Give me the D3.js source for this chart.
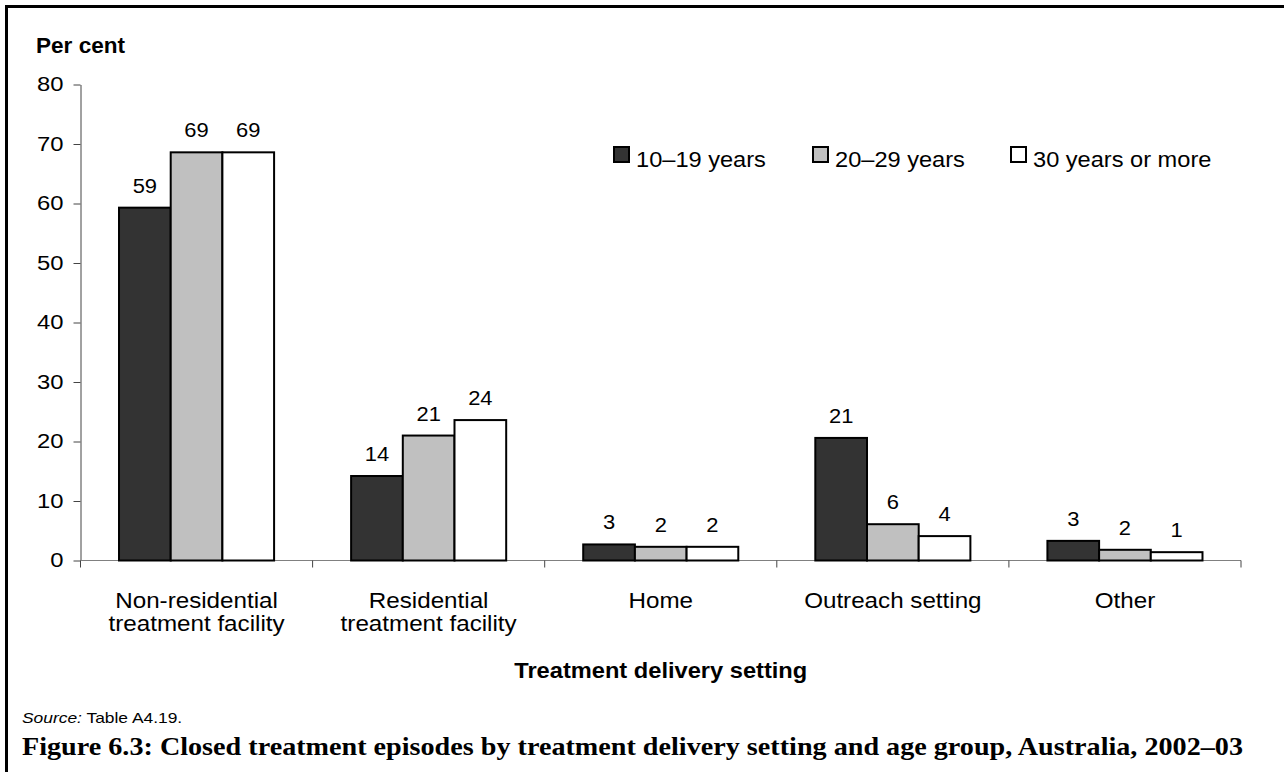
<!DOCTYPE html>
<html>
<head>
<meta charset="utf-8">
<script src="https://cdn.jsdelivr.net/npm/d3@7"></script>
<style>
  html, body { margin: 0; padding: 0; background: #fff; }
  svg { display: block; font-family: "Liberation Sans", Arial, sans-serif; }
</style>
</head>
<body>
<svg id="chart" width="1284" height="772"></svg>
<script>
// Treatment delivery settings (each label split into its printed lines)
const categories = ["Non-residential treatment facility", "Residential treatment facility", "Home", "Outreach setting", "Other"];
const categoryLines = [["Non-residential", "treatment facility"], ["Residential", "treatment facility"], ["Home"], ["Outreach setting"], ["Other"]];

// Age groups
const ageGroups = ["10–19 years", "20–29 years", "30 years or more"];

// Per cent of closed treatment episodes, by setting
const age10to19 = [59.3, 14.2, 2.7, 20.6, 3.3];
const age20to29 = [68.6, 21.0, 2.3, 6.1, 1.8];
const age30plus = [68.6, 23.6, 2.3, 4.1, 1.4];

const yTicks = [0, 10, 20, 30, 40, 50, 60, 70, 80];

const seriesValues = [age10to19, age20to29, age30plus];
const fills = ["#333333", "#c0c0c0", "#ffffff"];

const svg = d3.select("#chart");

// stretch text horizontally around its anchor point
function stretch(sel, sx) {
  sel.each(function () {
    const t = d3.select(this);
    const x = +t.attr("x") || 0;
    const y = +t.attr("y") || 0;
    t.attr("x", null).attr("y", null)
     .attr("transform", `translate(${x},${y}) scale(${sx},1)`);
  });
}

// outer frame
svg.append("rect")
  .attr("x", 6.5).attr("y", 6.5)
  .attr("width", 1320).attr("height", 820)
  .attr("fill", "none").attr("stroke", "#000").attr("stroke-width", 3);

const plot = { left: 80.5, right: 1241, top: 84.5, bottom: 560.5 };

const y = d3.scaleLinear().domain([0, 80]).range([plot.bottom, plot.top]);
const x0 = d3.scaleBand().domain(categories).range([plot.left, plot.right]).paddingInner(0).paddingOuter(0);
const x1 = d3.scaleBand().domain(ageGroups).range([0, x0.bandwidth()]).paddingInner(0).paddingOuter(0.745);

// y axis
const yAxis = svg.append("g")
  .attr("transform", `translate(${plot.left},0)`)
  .call(d3.axisLeft(y).tickValues(yTicks).tickSize(7).tickPadding(10).tickSizeOuter(0));
yAxis.select(".domain").attr("stroke", "#444").attr("stroke-width", 1);
yAxis.selectAll(".tick line").attr("stroke", "#444");
yAxis.selectAll(".tick text")
  .attr("font-size", 20).attr("fill", "#000")
  .attr("font-family", "'Liberation Sans', Arial, sans-serif")
  .call(stretch, 1.19);

// x axis line with ticks at band boundaries
svg.append("line")
  .attr("x1", plot.left).attr("x2", plot.right)
  .attr("y1", y(0)).attr("y2", y(0))
  .attr("stroke", "#808080").attr("stroke-width", 1);
const bounds = categories.map(c => x0(c)).concat([x0(categories[categories.length - 1]) + x0.step()]);
svg.append("g").selectAll("line").data(bounds).join("line")
  .attr("x1", d => d).attr("x2", d => d)
  .attr("y1", y(0)).attr("y2", y(0) + 7)
  .attr("stroke", "#444").attr("stroke-width", 1);

// bars
const groups = svg.append("g").selectAll("g").data(categories).join("g")
  .attr("transform", c => `translate(${x0(c)},0)`);

groups.selectAll("rect")
  .data((c, i) => ageGroups.map((g, s) => ({ g, s, v: seriesValues[s][i] })))
  .join("rect")
  .attr("x", d => x1(d.g))
  .attr("y", d => y(d.v))
  .attr("width", x1.bandwidth())
  .attr("height", d => y(0) - y(d.v))
  .attr("fill", d => fills[d.s])
  .attr("stroke", "#000").attr("stroke-width", 2);

// value labels
const fmt = d3.format(".0f");
groups.selectAll("text")
  .data((c, i) => ageGroups.map((g, s) => ({ g, s, v: seriesValues[s][i] })))
  .join("text")
  .attr("x", d => x1(d.g) + x1.bandwidth() / 2)
  .attr("y", d => y(d.v) - 15)
  .attr("text-anchor", "middle")
  .attr("font-size", 20.5)
  .text(d => fmt(d.v))
  .call(stretch, 1.07);

// category labels
svg.append("g").selectAll("text").data(categories).join("text")
  .attr("text-anchor", "middle")
  .attr("font-size", 22)
  .each(function (c, i) {
    const t = d3.select(this);
    categoryLines[i].forEach((line, k) => {
      t.append("tspan")
        .attr("x", 0)
        .attr("dy", k === 0 ? 0 : 23.5)
        .text(line);
    });
  })
  .attr("transform", c => `translate(${x0(c) + x0.bandwidth() / 2},608) scale(1.1,1)`);

// axis titles
svg.append("text")
  .attr("x", 36).attr("y", 52.5)
  .attr("font-size", 21.5).attr("font-weight", "bold")
  .text("Per cent")
  .call(stretch, 1.05);

svg.append("text")
  .attr("x", (plot.left + plot.right) / 2).attr("y", 678)
  .attr("text-anchor", "middle")
  .attr("font-size", 21.5).attr("font-weight", "bold")
  .text("Treatment delivery setting")
  .call(stretch, 1.1);

// legend
const legendX = [613, 812, 1010];
const legend = svg.append("g").selectAll("g").data(ageGroups).join("g")
  .attr("transform", (g, i) => `translate(${legendX[i]},146)`);
legend.append("rect")
  .attr("x", 1).attr("y", 1)
  .attr("width", 15).attr("height", 15)
  .attr("fill", (g, i) => fills[i])
  .attr("stroke", "#000").attr("stroke-width", 2);
legend.append("text")
  .attr("x", 23).attr("y", 20.7)
  .attr("font-size", 22.5)
  .text(g => g)
  .call(stretch, 1.05);

// source note
const src = svg.append("text")
  .attr("x", 22).attr("y", 722.5)
  .attr("font-size", 15);
src.append("tspan").attr("font-style", "italic").text("Source:");
src.append("tspan").text(" Table A4.19.");
src.call(stretch, 1.16);

// figure caption
svg.append("text")
  .attr("x", 22).attr("y", 755)
  .attr("font-family", "'Liberation Serif', 'DejaVu Serif', serif")
  .attr("font-size", 25).attr("font-weight", "bold")
  .attr("textLength", 1221).attr("lengthAdjust", "spacingAndGlyphs")
  .text("Figure 6.3: Closed treatment episodes by treatment delivery setting and age group, Australia, 2002–03");
</script>
</body>
</html>
